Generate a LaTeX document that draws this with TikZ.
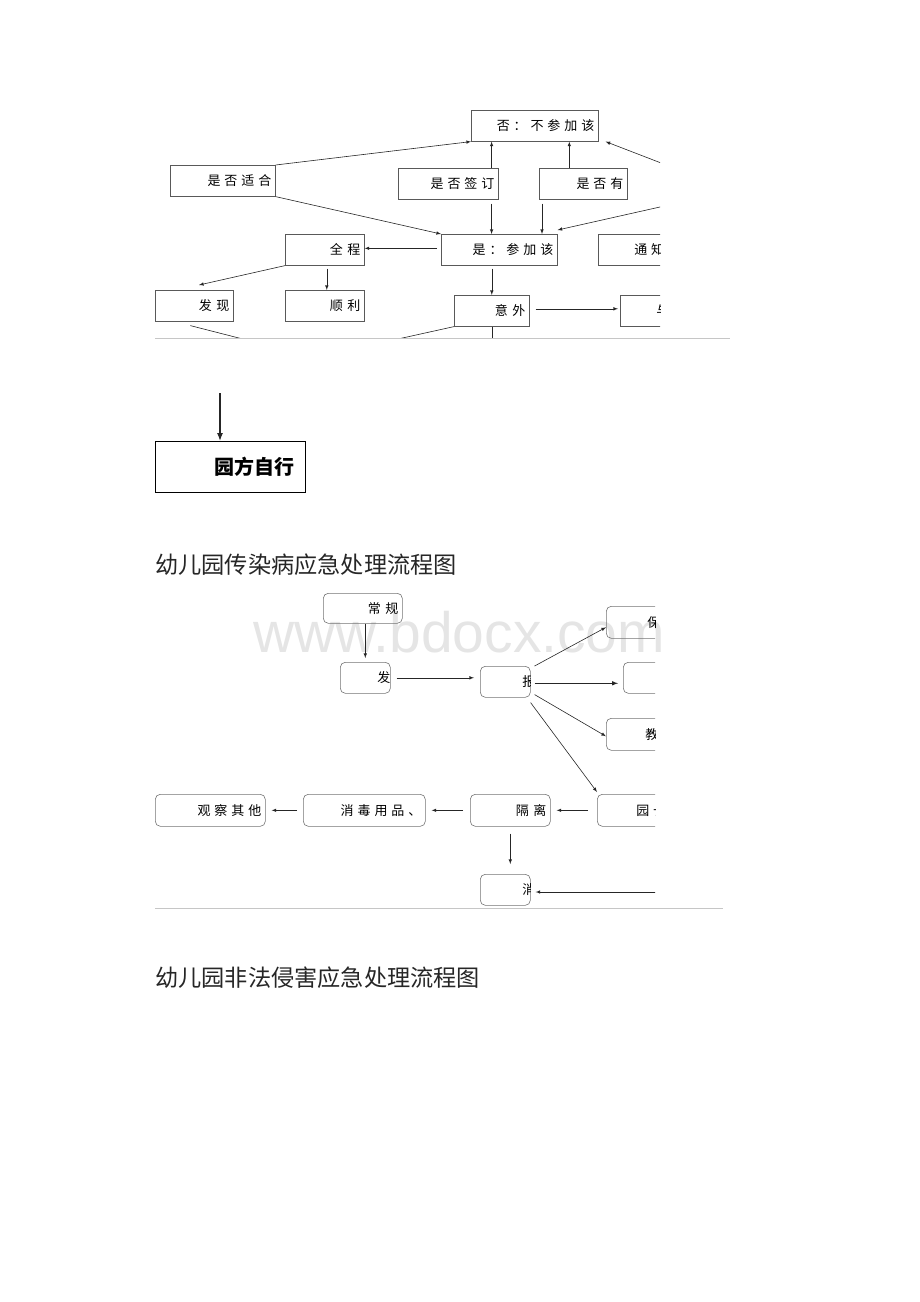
\documentclass[tikz,border=0pt]{standalone}
\usepackage{fontspec}
\setmainfont{Noto Sans CJK SC}
\newfontfamily\boxfont[LetterSpace=30]{Noto Sans CJK SC}
\newfontfamily\markfont{Liberation Sans}
\usetikzlibrary{arrows.meta}

\begin{document}
\begin{tikzpicture}[
    x=1pt, y=-1pt, % one unit is one pixel of the page
    ->, % Arrow style
    > = latex, % arrow head style
    line width=0.6pt,
    black!85
  ]

  \tikzstyle{box}=[-, rectangle, draw=black!65, anchor=north west, minimum height=31,
    inner xsep=4, inner ysep=0, align=right, text=black, font=\boxfont\fontsize{13}{15}\selectfont]
  \tikzstyle{rbox}=[box, rounded corners=5, draw=black!55]
  \tikzstyle{txt}=[anchor=west, inner sep=0, text=black, font=\boxfont\fontsize{13}{15}\selectfont]
  \tikzstyle{heading}=[anchor=west, inner sep=0, font=\fontsize{23.2}{26}\selectfont]
  \tikzstyle{rule}=[-, gray!45, line width=0.8]

  \useasboundingbox (0,0) rectangle (920,1302);

  % watermark
  \node[anchor=base west, inner sep=0, text=black!10, font=\markfont\fontsize{57}{60}\selectfont]
    (mark) at (253,652) {www.bdocx.com};

  % first chart, cut off at the page edge
  \begin{scope}
    \clip (150,100) rectangle (660,338);

    \node[box, text width=119] (no) at (471,110) {否：不参加该};
    \node[box, text width=97] (fit) at (170,165) {是否适合};
    \node[box, text width=92] (sign) at (398,168) {是否签订};
    \node[box, text width=80] (have) at (539,168) {是否有};
    \node[box, text width=108] (yes) at (441,234) {是：参加该};
    \node[box, text width=71] (whole) at (285,234) {全 程};
    \node[box, minimum width=100] (notify) at (598,234) {};
    \node[txt] (notify-t) at ([xshift=36]notify.west) {通知};
    \node[box, text width=70] (find) at (155,290) {发 现};
    \node[box, text width=71] (ok) at (285,290) {顺 利};
    \node[box, text width=67] (acc) at (454,295) {意 外};
    \node[box, minimum width=100] (tell) at (620,295) {};
    \node[txt] (tell-t) at ([xshift=36]tell.west) {与};

    \coordinate (ra) at (700,178);
    \coordinate (rb) at (700,198);
    \coordinate (fd) at (325,360);
    \coordinate (ad) at (303,360);

    \draw (fit.north east) -- (no.south west);
    \draw (fit.south east) -- (yes.north west);
    \draw ([xshift=-7]sign.north east) -- ([xshift=-7]sign.north east |- no.south);
    \draw ([xshift=-7,yshift=-4]sign.south east) -- ([xshift=-7]sign.south east |- yes.north);
    \draw ([xshift=-14]have.north) -- ([xshift=-14]have.north |- no.south);
    \draw ([xshift=3,yshift=-4]have.south west) -- ([xshift=3]have.south west |- yes.north);
    \draw (ra) -- ([xshift=7]no.south east);
    \draw (rb) -- ([yshift=4]yes.north east);
    \draw[shorten <=4] ([yshift=1.5]yes.west) -- ([yshift=1.5]yes.west -| whole.east);
    \draw (whole.south west) -- ([xshift=44,yshift=5]find.north west);
    \draw ([xshift=2,yshift=-3]whole.south) -- ([xshift=2]whole.south |- ok.north);
    \draw ([yshift=-3]yes.south -| acc.north) -- (acc.north);
    \draw[shorten <=6, shorten >=2] ([yshift=2]acc.east) -- ([yshift=2]acc.east -| tell.west);
    \draw[-] ([xshift=-4,yshift=-4]find.south) -- (fd);
    \draw[-] (acc.south west) -- (ad);
    \draw[-] (acc.south) -- (acc.south |- fd);
  \end{scope}
  \draw[rule] (155,338) -- (730,338);

  % second part
  \coordinate (st) at (220,393);
  \node[box, draw=black, line width=1.2, text width=128, minimum height=51, inner xsep=11,
    font=\bfseries\fontsize{20}{24}\selectfont] (self) at (155,441) {园方自行};
  \draw[line width=1.2, -{Latex[length=8,width=6]}] (st) -- (st |- self.north);

  \node[heading] (t1) at (155,565) {幼儿园传染病应急处理流程图};

  % third chart
  \begin{scope}
    \clip (150,585) rectangle (655,909);

    \node[rbox, text width=71, minimum height=30] (check) at (323,593) {常 规};
    \node[rbox, minimum width=50] (fa) at (340,662) {};
    \node[rbox, minimum width=50] (rep) at (480,666) {};
    \node[rbox, minimum width=100, minimum height=32] (b1) at (606,606) {};
    \node[txt] (b1-t) at ([xshift=41]b1.west) {保};
    \node[rbox, minimum width=100] (b2) at (623,662) {};
    \node[rbox, minimum width=100, minimum height=32] (b3) at (606,718) {};
    \node[txt] (b3-t) at ([xshift=39]b3.west) {教};
    \node[rbox, minimum width=100, minimum height=32] (head) at (597,794) {};
    \node[txt] (head-t) at ([xshift=39]head.west) {园长};
    \node[rbox, text width=72, minimum height=32] (iso) at (470,794) {隔 离};
    \node[rbox, text width=114, minimum height=32] (dis) at (303,794) {消毒用品、};
    \node[rbox, text width=102, minimum height=32] (obs) at (155,794) {观察其他};
    \node[rbox, minimum width=50] (xd) at (480,874) {};

    % texts cut by their own box
    \begin{scope}
      \clip (fa.north west) rectangle (fa.south east);
      \node[txt] (fa-t) at ([xshift=37]fa.west) {发};
    \end{scope}
    \begin{scope}
      \clip (rep.north west) rectangle (rep.south east);
      \node[txt] (rep-t) at ([xshift=42]rep.west) {报};
    \end{scope}
    \begin{scope}
      \clip (xd.north west) rectangle (xd.south east);
      \node[txt] (xd-t) at ([xshift=42]xd.west) {消};
    \end{scope}

    \coordinate (r2) at ([xshift=4,yshift=-1.5]rep.east);
    \coordinate (rc) at (700,892);

    \draw[shorten >=4] (check.south -| fa.north) -- (fa.north);
    \draw[shorten <=6, shorten >=6] (fa.east) -- (fa.east -| rep.west);
    \draw ([xshift=4]rep.north east) -- ([yshift=-5]b1.west);
    \draw[line width=1, shorten >=5] (r2) -- (r2 -| b2.west);
    \draw ([xshift=4,yshift=3]rep.south east) -- ([yshift=-2]b3.west);
    \draw ([yshift=-5]rep.south east) -- ([yshift=2]head.north west);
    \draw[shorten <=9, shorten >=6] (head.west) -- (iso.east);
    \draw[shorten <=7, shorten >=6] (iso.west) -- (dis.east);
    \draw[shorten <=6, shorten >=6] (dis.west) -- (obs.east);
    \draw[shorten <=7, shorten >=10] (iso.south) -- (iso.south |- xd.north);
    \draw[shorten >=5] (rc) -- (rc -| xd.east);
  \end{scope}
  \draw[rule] (155,908) -- (723,908);

  \node[heading] (t2) at (155,978) {幼儿园非法侵害应急处理流程图};

\end{tikzpicture}
\end{document}
